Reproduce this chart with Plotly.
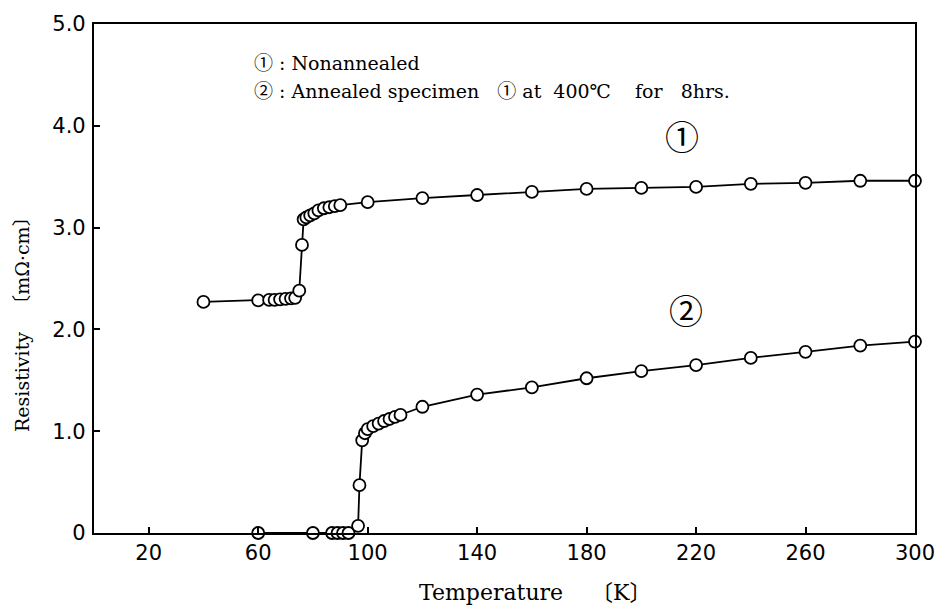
import plotly.graph_objects as go

# Curve 1: nonannealed
temp_1 = [40, 60, 64, 66, 68, 70, 72, 73.5, 75, 76, 76.6, 77.6, 79, 80.5, 82, 84, 86, 88, 90,
          100, 120, 140, 160, 180, 200, 220, 240, 260, 280, 300]
res_1 = [2.27, 2.285, 2.29, 2.29, 2.295, 2.30, 2.305, 2.31, 2.38, 2.83, 3.08, 3.10, 3.12, 3.14,
         3.17, 3.19, 3.20, 3.21, 3.22, 3.25, 3.29, 3.32, 3.35, 3.38, 3.39, 3.40, 3.43, 3.44, 3.46, 3.46]

# Curve 2: annealed
temp_2 = [60, 80, 87, 89, 91, 93, 96.5, 97, 98, 99, 100, 102, 104, 106, 108, 110, 112,
          120, 140, 160, 180, 200, 220, 240, 260, 280, 300]
res_2 = [0, 0, 0, 0, 0, 0, 0.07, 0.47, 0.91, 0.98, 1.02, 1.05, 1.075, 1.10, 1.12, 1.14, 1.16,
         1.24, 1.36, 1.43, 1.52, 1.59, 1.65, 1.72, 1.78, 1.84, 1.88]

x_ticks = [20, 60, 100, 140, 180, 220, 260, 300]
x_tick_labels = ["20", "60", "100", "140", "180", "220", "260", "300"]
y_ticks = [0, 1, 2, 3, 4, 5]
y_tick_labels = ["0", "1.0", "2.0", "3.0", "4.0", "5.0"]

marker = dict(symbol="circle", size=12, color="white", line=dict(color="black", width=1.8))
line = dict(color="black", width=1.8)

fig = go.Figure()
fig.add_trace(go.Scatter(x=temp_1, y=res_1, mode="lines+markers", line=line, marker=marker,
                         showlegend=False, cliponaxis=False))
fig.add_trace(go.Scatter(x=temp_2, y=res_2, mode="lines+markers", line=line, marker=marker,
                         showlegend=False, cliponaxis=False))

tick_font = dict(family="DejaVu Sans, sans-serif", size=21, color="black")
serif = "DejaVu Serif, Liberation Serif, Noto Sans CJK JP, serif"
NB = "\u00a0"

fig.update_xaxes(range=[0, 300], tickvals=x_ticks, ticktext=x_tick_labels,
                 showline=True, mirror=True, linecolor="black", linewidth=2.2,
                 ticks="inside", ticklen=6, tickwidth=1.5, tickcolor="black",
                 showgrid=False, zeroline=False, tickfont=tick_font)
fig.update_yaxes(range=[0, 5], tickvals=y_ticks, ticktext=y_tick_labels,
                 showline=True, mirror=True, linecolor="black", linewidth=2.2,
                 ticks="inside", ticklen=6, tickwidth=1.5, tickcolor="black",
                 showgrid=False, zeroline=False, tickfont=tick_font, ticklabelstandoff=2)

legend_font = dict(family=serif, size=19, color="black")
annotations = [
    dict(text="①" + NB + ":" + NB + "Nonannealed", xref="paper", yref="paper", x=0.192, y=0.924,
         xanchor="left", yanchor="middle", showarrow=False, font=legend_font),
    dict(text="②" + NB + ":" + NB + "Annealed" + NB + "specimen" + NB * 3 + "①" + NB + "at" + NB * 2
         + "400℃" + NB * 4 + "for" + NB * 3 + "8hrs.",
         xref="paper", yref="paper", x=0.192, y=0.868, xanchor="left", yanchor="middle",
         showarrow=False, font=legend_font),
    dict(text="①", xref="x", yref="y", x=215, y=3.9, showarrow=False,
         font=dict(family="Noto Sans CJK JP", size=34, color="black")),
    dict(text="②", xref="x", yref="y", x=216.5, y=2.2, showarrow=False,
         font=dict(family="Noto Sans CJK JP", size=34, color="black")),
    dict(text="Temperature" + NB * 4 + "〔K〕", xref="paper", yref="paper", x=0.538, y=-0.117,
         xanchor="center", yanchor="middle", showarrow=False,
         font=dict(family=serif, size=22, color="black")),
    dict(text="Resistivity" + NB * 3 + "〔mΩ·cm〕", xref="paper", yref="paper", x=-0.088, y=0.42,
         xanchor="center", yanchor="middle", showarrow=False, textangle=-90,
         font=dict(family=serif, size=19, color="black")),
]

fig.update_layout(width=947, height=610, margin=dict(l=94, r=30, t=18, b=77),
                  plot_bgcolor="white", paper_bgcolor="white", annotations=annotations)

fig.write_html("out.html")
